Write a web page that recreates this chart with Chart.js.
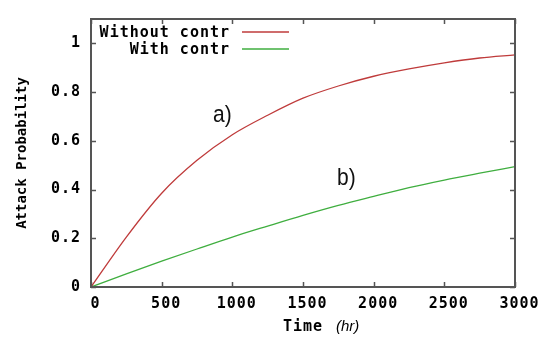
<!DOCTYPE html>
<html><head><meta charset="utf-8">
<script src="https://cdn.jsdelivr.net/npm/chart.js@4"></script>
<style>html,body{margin:0;padding:0;background:#fff}#w{width:545px;height:338px}</style>
</head><body><div id="w"><canvas id="c" width="545" height="338"></canvas></div>
<script>
const timeHr = [0,250,500,750,1000,1250,1500,1750,2000,2250,2500,2750,3000];
const withoutContr = [0,0.205,0.385,0.52,0.625,0.705,0.775,0.825,0.865,0.895,0.92,0.94,0.953];
const withContr = [0,0.054,0.106,0.156,0.205,0.25,0.294,0.335,0.372,0.408,0.439,0.467,0.494];
const xTicks = [0,500,1000,1500,2000,2500,3000];
const yTicks = [0,0.2,0.4,0.6,0.8,1];
const seriesNames = ['Without contr','With contr'];
const yTitle = 'Attack Probability';
const xTitleMain = 'Time', xTitleUnit = '(hr)';
const annotations = [{text:'a)', x:863, y:0.703},{text:'b)', x:1741, y:0.445}];

const MONO = 'bold 15px "DejaVu Sans Mono"';
const GRID = '#555';
const SPACING = '1px';

const deco = {
  id:'deco',
  beforeLayout(ch){ ch.ctx.letterSpacing = SPACING; },
  beforeDraw(ch){ ch.ctx.letterSpacing = SPACING; },
  afterDraw(ch){
    const c = ch.ctx, a = ch.chartArea, xs = ch.scales.x, ys = ch.scales.y;
    c.save();
    c.letterSpacing = '0px';
    // inward ticks
    c.strokeStyle = GRID; c.lineWidth = 1.5;
    c.beginPath();
    xTicks.forEach(v=>{const p=Math.round(xs.getPixelForValue(v))+0.5;
      c.moveTo(p,a.bottom); c.lineTo(p,a.bottom-5); c.moveTo(p,a.top); c.lineTo(p,a.top+5);});
    yTicks.forEach(v=>{const p=Math.round(ys.getPixelForValue(v))+0.5;
      c.moveTo(a.left,p); c.lineTo(a.left+5,p); c.moveTo(a.right,p); c.lineTo(a.right-5,p);});
    c.stroke();
    // border
    c.lineWidth = 2; c.strokeRect(a.left, a.top, a.right-a.left, a.bottom-a.top);
    // legend
    c.letterSpacing = SPACING;
    c.font = MONO; c.fillStyle = '#000'; c.textAlign='right'; c.textBaseline='middle';
    const colors = [ch.data.datasets[0].borderColor, ch.data.datasets[1].borderColor];
    seriesNames.forEach((n,i)=>{
      const y = a.top + 14 + i*17;
      c.fillText(n, a.left+139, y);
      c.strokeStyle = colors[i]; c.lineWidth = 1.3;
      c.beginPath(); c.moveTo(a.left+151, y-1); c.lineTo(a.left+198, y-1); c.stroke();
    });
    // x title
    const cx = (a.left+a.right)/2, yt = 327;
    c.textAlign='left';
    c.fillText(xTitleMain, cx-20, yt);
    c.letterSpacing = '0px';
    c.font = 'italic 15px "Liberation Sans"'; c.fillText(xTitleUnit, cx+33, yt);
    // y title
    c.save();
    c.font = 'bold 14px "DejaVu Sans Mono"'; c.textAlign='center';
    c.translate(22.5, (a.top+a.bottom)/2); c.rotate(-Math.PI/2);
    c.fillText(yTitle, 0, 0);
    c.restore();
    // annotations
    c.font = '21px "Liberation Sans"'; c.fillStyle='#111'; c.textAlign='left';
    annotations.forEach(t=>{
      c.save();
      c.translate(xs.getPixelForValue(t.x), ys.getPixelForValue(t.y));
      c.scale(1, 1.12);
      c.fillText(t.text, 0, 0);
      c.restore();
    });
    c.restore();
  }
};

new Chart(document.getElementById('c'), {
  type:'line',
  data:{ datasets:[
    {label:seriesNames[0], data:timeHr.map((t,i)=>({x:t,y:withoutContr[i]})), borderColor:'#bf3b3b', borderWidth:1.3, pointRadius:0, cubicInterpolationMode:'monotone', fill:false},
    {label:seriesNames[1], data:timeHr.map((t,i)=>({x:t,y:withContr[i]})), borderColor:'#3fae3f', borderWidth:1.3, pointRadius:0, cubicInterpolationMode:'monotone', fill:false}
  ]},
  options:{
    responsive:false, animation:false, devicePixelRatio:1,
    layout:{padding:{top:6,right:30,left:0,bottom:0}},
    plugins:{legend:{display:false}, tooltip:{enabled:false}},
    scales:{
      x:{type:'linear', min:0, max:3000,
        afterBuildTicks(s){s.ticks = xTicks.map(v=>({value:v}));},
        afterFit(s){s.height = 51;},
        grid:{display:false, drawTicks:false}, border:{display:false},
        ticks:{font:{family:'DejaVu Sans Mono', weight:'bold', size:15}, color:'#000', padding:8, maxRotation:0, labelOffset:4.5,
          callback:v=>String(v)}},
      y:{type:'linear', min:0, max:1.1,
        afterBuildTicks(s){s.ticks = yTicks.map(v=>({value:v}));},
        afterFit(s){s.width = 91;},
        grid:{display:false, drawTicks:false}, border:{display:false},
        ticks:{font:{family:'DejaVu Sans Mono', weight:'bold', size:15}, color:'#000', padding:10,
          callback:v=>String(Math.round(v*10)/10)}}
    }
  },
  plugins:[deco]
});
</script></body></html>
